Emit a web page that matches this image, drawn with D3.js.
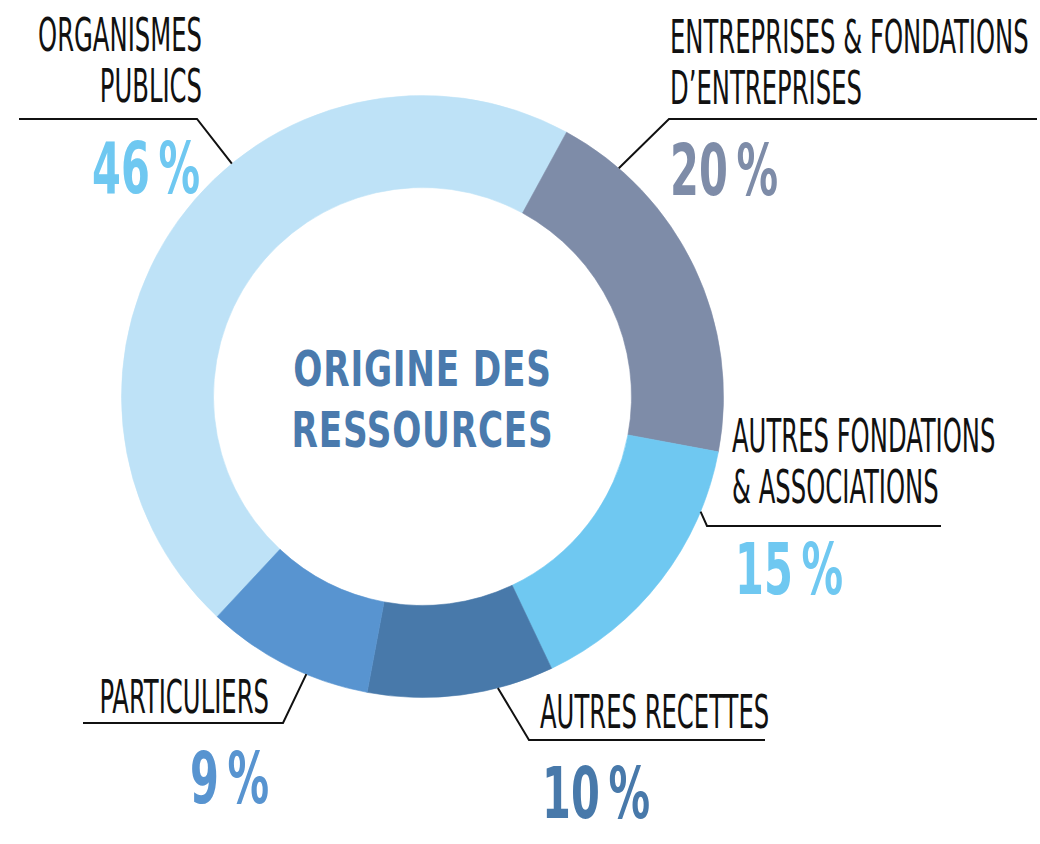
<!DOCTYPE html>
<html>
<head>
<meta charset="utf-8">
<script src="https://cdn.jsdelivr.net/npm/d3@7"></script>
<style>
  body { margin: 0; background: #fff; }
  svg { display: block; }
</style>
</head>
<body>
<div id="chart"></div>
<script>
// Chart data
var categories = ["Organismes publics", "Entreprises & fondations d'entreprises",
    "Autres fondations & associations", "Autres recettes", "Particuliers"];
var shares = [46, 20, 15, 10, 9];
var labelLines = [
    ["ORGANISMES", "PUBLICS"],
    ["ENTREPRISES & FONDATIONS", "D\u2019ENTREPRISES"],
    ["AUTRES FONDATIONS", "& ASSOCIATIONS"],
    ["AUTRES RECETTES"],
    ["PARTICULIERS"]
];
var shareLabels = ["46 %", "20 %", "15 %", "10 %", "9 %"];
var title = ["ORIGINE DES", "RESSOURCES"];

var width = 1040,
    height = 844,
    cx = 422.5,
    cy = 396.5,
    outerRadius = 301,
    innerRadius = 209,
    lineGap = 51;

var fontFamily = "'Liberation Sans Narrow', 'DejaVu Sans Condensed', 'Noto Sans', sans-serif";

var sliceColor = d3.scaleOrdinal()
    .domain(categories)
    .range(["#bee2f7", "#7e8ca8", "#6fc8f1", "#4879aa", "#5894d0"]);
var shareColor = d3.scaleOrdinal()
    .domain(categories)
    .range(["#6fc8f1", "#7e8ca8", "#6fc8f1", "#4879aa", "#5894d0"]);

// callout placement: leader start angle (deg), elbow, end of the rule, text anchors
var callouts = [
    {angle: -39.3, elbow: [197, 119], end: 19, anchor: "end", x: 202, y: 51, px: 200, py: 193},
    {angle: 40.7, elbow: [669, 119], end: 1037, anchor: "start", x: 670, y: 53, px: 670, py: 195},
    {angle: 112.5, elbow: [707, 526], end: 941, anchor: "start", x: 732, y: 452, px: 735, py: 594},
    {angle: 165.5, elbow: [529, 740], end: 765, anchor: "start", x: 540, y: 728, px: 542, py: 818},
    {angle: 202.7, elbow: [283, 723], end: 83, anchor: "end", x: 269, y: 713, px: 269, py: 803}
];

var rad = function (deg) { return deg * Math.PI / 180; };
var start = rad(28.6 - 165.6);

var pie = d3.pie()
    .sort(null)
    .value(function (d) { return d; })
    .startAngle(start)
    .endAngle(start + 2 * Math.PI);

var arc = d3.arc()
    .innerRadius(innerRadius)
    .outerRadius(outerRadius);

var svg = d3.select("#chart").append("svg")
    .attr("width", width)
    .attr("height", height);

// horizontal squeeze so the fallback fonts look like the condensed original
function squeeze(size, weight, sample, target, wordSpacing) {
    var t = svg.append("text")
        .attr("font-family", fontFamily)
        .attr("font-size", size)
        .attr("font-weight", weight)
        .attr("word-spacing", wordSpacing || 0)
        .text(sample);
    var w = t.node().getComputedTextLength();
    t.remove();
    return target / w;
}
var labelScale = squeeze(46, 400, "ORGANISMES", 164);
var shareScale = squeeze(71, 700, "46 %", 108, -9);
var titleScale = squeeze(49, 700, "ORIGINE DES", 250);

var g = svg.append("g")
    .attr("transform", "translate(" + [cx, cy] + ")");

g.selectAll(".slice")
    .data(pie(shares))
    .enter()
    .append("path")
    .attr("class", "slice")
    .attr("d", arc)
    .attr("fill", function (d, i) { return sliceColor(categories[i]); })
    .attr("stroke", function (d, i) { return sliceColor(categories[i]); })
    .attr("stroke-width", 0.6);

// centre title
g.selectAll(".title")
    .data(title)
    .enter()
    .append("text")
    .attr("class", "title")
    .attr("transform", function (d, i) {
        return "translate(" + [0, -10.5 + i * 61] + ")scale(" + titleScale + ",1)";
    })
    .attr("text-anchor", "middle")
    .attr("font-family", fontFamily)
    .attr("font-size", 49)
    .attr("font-weight", 700)
    .attr("letter-spacing", 1)
    .attr("fill", "#4a7aad")
    .text(function (d) { return d; });

// leader lines
var line = d3.line();
svg.selectAll(".leader")
    .data(callouts)
    .enter()
    .append("path")
    .attr("class", "leader")
    .attr("d", function (c) {
        var p = d3.pointRadial(rad(c.angle), outerRadius);
        return line([[cx + p[0], cy + p[1]], c.elbow, [c.end, c.elbow[1]]]);
    })
    .attr("fill", "none")
    .attr("stroke", "#111")
    .attr("stroke-width", 2);

// category labels
var labels = svg.selectAll(".label")
    .data(callouts)
    .enter()
    .append("g")
    .attr("class", "label");

labels.selectAll("text")
    .data(function (c, i) {
        return labelLines[i].map(function (t, j) { return {c: c, t: t, j: j}; });
    })
    .enter()
    .append("text")
    .attr("transform", function (d) {
        return "translate(" + [d.c.x, d.c.y + d.j * lineGap] + ")scale(" + labelScale + ",1)";
    })
    .attr("text-anchor", function (d) { return d.c.anchor; })
    .attr("font-family", fontFamily)
    .attr("font-size", 46)
    .attr("fill", "#111")
    .text(function (d) { return d.t; });

// share values
svg.selectAll(".share")
    .data(callouts)
    .enter()
    .append("text")
    .attr("class", "share")
    .attr("transform", function (c) {
        return "translate(" + [c.px, c.py] + ")scale(" + shareScale + ",1)";
    })
    .attr("text-anchor", function (c) { return c.anchor; })
    .attr("font-family", fontFamily)
    .attr("font-size", 71)
    .attr("font-weight", 700)
    .attr("word-spacing", -9)
    .attr("fill", function (c, i) { return shareColor(categories[i]); })
    .text(function (c, i) { return shareLabels[i]; });
</script>
</body>
</html>
